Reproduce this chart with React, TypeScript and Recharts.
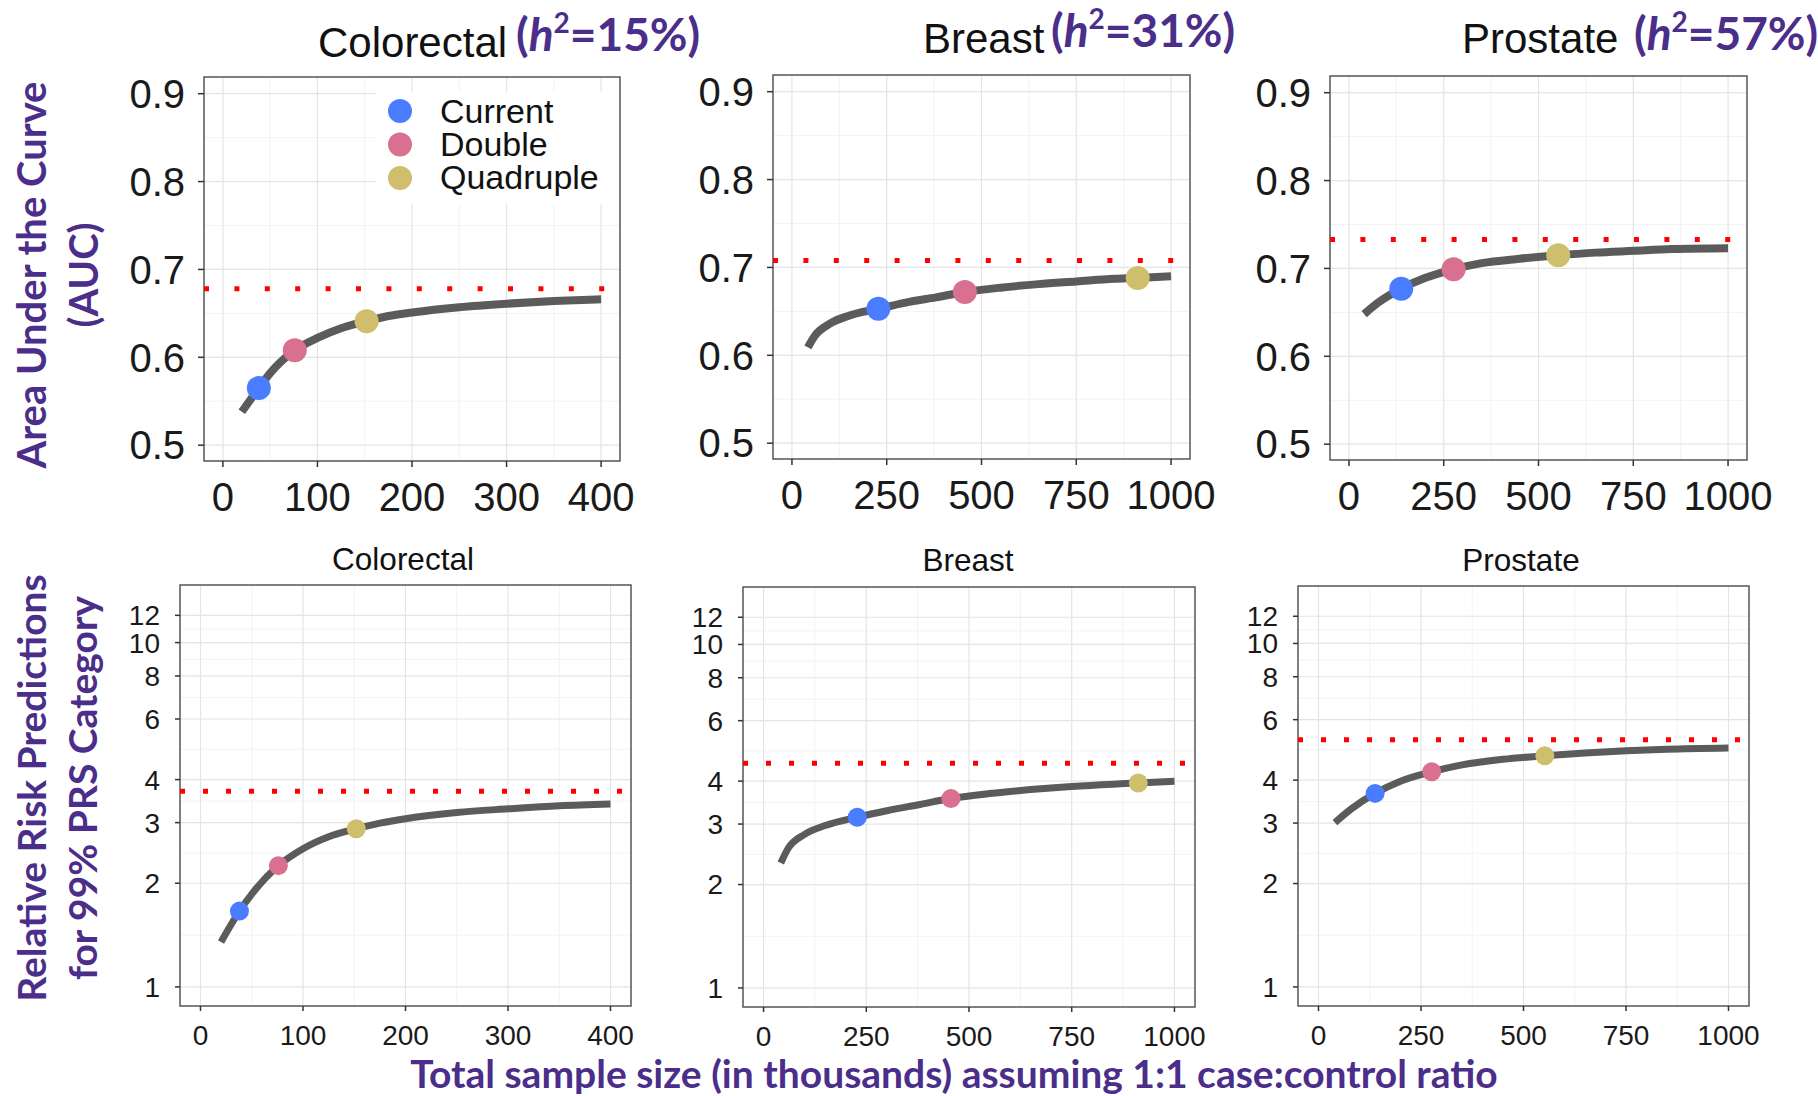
import React from 'react';
import {
  ComposedChart,
  Line,
  Scatter,
  XAxis,
  YAxis,
  CartesianGrid,
  ReferenceLine,
  ReferenceArea,
} from 'recharts';

const SANS = "'Liberation Sans', Arial, Helvetica, sans-serif";
const LABEL_FONT = "Lato, 'Open Sans', sans-serif";
const PURPLE = '#4b2d8a';

const LEVELS = ['Current', 'Double', 'Quadruple'];
const LEVEL_COLORS = ['#4a7cff', '#d9708f', '#cfbe6c'];

// sample size grid (thousands) for each fitted curve
const colorectalN = [20, 38, 50, 76, 100, 125, 152, 175, 200, 250, 300, 350, 400];
const breastN = [42, 60, 100, 150, 228, 300, 380, 456, 550, 650, 750, 850, 912, 1000];
const prostateN = [40, 80, 138, 200, 276, 350, 450, 552, 650, 750, 850, 1000];

// projected AUC
const colorectalAuc = [0.538, 0.565, 0.582, 0.608, 0.622, 0.633, 0.641, 0.647, 0.651, 0.657, 0.661, 0.664, 0.666];
const breastAuc = [0.609, 0.622, 0.636, 0.645, 0.653, 0.66, 0.666, 0.672, 0.677, 0.681, 0.684, 0.687, 0.688, 0.69];
const prostateAuc = [0.648, 0.662, 0.677, 0.689, 0.699, 0.706, 0.711, 0.715, 0.718, 0.72, 0.722, 0.723];

// projected relative risk, top 1% PRS
const colorectalRR = [1.35, 1.66, 1.86, 2.25, 2.52, 2.73, 2.88, 2.99, 3.08, 3.21, 3.29, 3.36, 3.4];
const breastRR = [2.31, 2.55, 2.8, 2.97, 3.14, 3.28, 3.42, 3.56, 3.68, 3.78, 3.86, 3.92, 3.95, 4.0];
const prostateRR = [3.01, 3.3, 3.66, 3.97, 4.23, 4.43, 4.6, 4.71, 4.8, 4.87, 4.92, 4.96];

// current / double / quadruple sample sizes
const colorectalLevels = [38, 76, 152];
const breastLevels = [228, 456, 912];
const prostateLevels = [138, 276, 552];

const colorectalLevelAuc = [0.565, 0.608, 0.641];
const breastLevelAuc = [0.653, 0.672, 0.688];
const prostateLevelAuc = [0.677, 0.699, 0.715];

const colorectalLevelRR = [1.66, 2.25, 2.88];
const breastLevelRR = [3.14, 3.56, 3.95];
const prostateLevelRR = [3.66, 4.23, 4.71];

// upper limits (infinite sample size)
const aucLimits = [0.678, 0.708, 0.733];
const rrLimits = [3.7, 4.51, 5.24];

const aucTicks = [0.5, 0.6, 0.7, 0.8, 0.9];
const aucMinor = [0.55, 0.65, 0.75, 0.85];
const rrTicks = [1, 2, 3, 4, 6, 8, 10, 12];
const rrMinor = [1.414, 2.449, 3.464, 4.899, 6.928, 8.944, 10.954];
const smallNTicks = [0, 100, 200, 300, 400];
const smallNMinor = [50, 150, 250, 350];
const bigNTicks = [0, 250, 500, 750, 1000];
const bigNMinor = [125, 375, 625, 875];

type Box = { x: number; y: number; w: number; h: number };

interface PanelProps {
  box: Box;
  xDomain: [number, number];
  xTicks: number[];
  xMinor: number[];
  yDomain: [number, number];
  yTicks: number[];
  yMinor: number[];
  log?: boolean;
  n: number[];
  values: number[];
  levelN: number[];
  levelValues: number[];
  limit: number;
  top: boolean;
}

const Panel = ({
  box, xDomain, xTicks, xMinor, yDomain, yTicks, yMinor, log,
  n, values, levelN, levelValues, limit, top,
}: PanelProps) => {
  const curve = n.map((x, i) => ({ x, y: values[i] }));
  const fontSize = top ? 40 : 28;
  const tickStyle = { fontSize, fill: '#1a1a1a', fontFamily: SANS };
  const dotR = top ? 12 : 9.5;
  return (
    <div style={{ position: 'absolute', left: box.x - 150, top: box.y - 10 }}>
      <ComposedChart
        width={box.w + 220}
        height={box.h + 100}
        margin={{ top: 10, right: 70, left: 0, bottom: 0 }}
      >
        <CartesianGrid
          stroke="#f3f3f3"
          strokeWidth={1}
          horizontalValues={yMinor}
          verticalValues={xMinor}
        />
        <CartesianGrid
          stroke="#e4e4e4"
          strokeWidth={1.2}
          horizontalValues={yTicks}
          verticalValues={xTicks}
        />
        <XAxis
          type="number"
          dataKey="x"
          domain={xDomain}
          ticks={xTicks}
          interval={0}
          allowDataOverflow
          axisLine={false}
          tickLine={{ stroke: '#333', strokeWidth: 1.5 }}
          tickSize={top ? 6 : 5}
          tickMargin={top ? 16 : 14}
          height={90}
          tick={tickStyle}
        />
        <YAxis
          type="number"
          dataKey="y"
          scale={log ? 'log' : 'linear'}
          domain={yDomain}
          ticks={yTicks}
          interval={0}
          allowDataOverflow
          axisLine={false}
          tickLine={{ stroke: '#333', strokeWidth: 1.5 }}
          tickSize={top ? 6 : 5}
          tickMargin={top ? 13 : 15}
          width={150}
          tick={tickStyle}
        />
        <ReferenceArea
          x1={xDomain[0]}
          x2={xDomain[1]}
          y1={yDomain[0]}
          y2={yDomain[1]}
          fill="none"
          stroke="#555"
          strokeWidth={1.5}
        />
        <ReferenceLine
          y={limit}
          stroke="#ff0000"
          strokeWidth={5}
          strokeDasharray={top ? '5 25.4' : '5 18'}
        />
        <Line
          data={curve}
          dataKey="y"
          type="monotone"
          stroke="#5b5b5b"
          strokeWidth={top ? 8 : 7}
          dot={false}
          isAnimationActive={false}
        />
        {LEVELS.map((name, i) => (
          <Scatter
            key={name}
            name={name}
            data={[{ x: levelN[i], y: levelValues[i] }]}
            dataKey="y"
            fill={LEVEL_COLORS[i]}
            isAnimationActive={false}
            shape={(p: any) => <circle cx={p.cx} cy={p.cy} r={dotR} fill={LEVEL_COLORS[i]} />}
          />
        ))}
      </ComposedChart>
    </div>
  );
};

const Heritability = ({ x, y, value }: { x: number; y: number; value: string }) => (
  <text x={x} y={y} fontFamily={LABEL_FONT} fontWeight={700} fontSize={46} fill={PURPLE}>
    (<tspan fontStyle="italic">h</tspan>
    <tspan dy={-18} fontSize={28}>2</tspan>
    <tspan dy={18}>={value})</tspan>
  </text>
);

export default function App() {
  const aucDomain: [number, number] = [0.482, 0.919];
  const rrDomain: [number, number] = [0.88, 14.7];
  return (
    <div style={{ position: 'absolute', left: 0, top: 0, width: 1818, height: 1096, background: '#fff', overflow: 'hidden' }}>
      <Panel box={{ x: 204, y: 77, w: 416, h: 384 }} xDomain={[-20, 420]} xTicks={smallNTicks} xMinor={smallNMinor}
        yDomain={aucDomain} yTicks={aucTicks} yMinor={aucMinor} n={colorectalN} values={colorectalAuc}
        levelN={colorectalLevels} levelValues={colorectalLevelAuc} limit={aucLimits[0]} top />
      <Panel box={{ x: 773, y: 75, w: 417, h: 384 }} xDomain={[-50, 1050]} xTicks={bigNTicks} xMinor={bigNMinor}
        yDomain={aucDomain} yTicks={aucTicks} yMinor={aucMinor} n={breastN} values={breastAuc}
        levelN={breastLevels} levelValues={breastLevelAuc} limit={aucLimits[1]} top />
      <Panel box={{ x: 1330, y: 76, w: 417, h: 384 }} xDomain={[-50, 1050]} xTicks={bigNTicks} xMinor={bigNMinor}
        yDomain={aucDomain} yTicks={aucTicks} yMinor={aucMinor} n={prostateN} values={prostateAuc}
        levelN={prostateLevels} levelValues={prostateLevelAuc} limit={aucLimits[2]} top />

      <Panel box={{ x: 180, y: 585, w: 451, h: 421 }} xDomain={[-20, 420]} xTicks={smallNTicks} xMinor={smallNMinor}
        yDomain={rrDomain} yTicks={rrTicks} yMinor={rrMinor} log n={colorectalN} values={colorectalRR}
        levelN={colorectalLevels} levelValues={colorectalLevelRR} limit={rrLimits[0]} top={false} />
      <Panel box={{ x: 743, y: 587, w: 452, h: 420 }} xDomain={[-50, 1050]} xTicks={bigNTicks} xMinor={bigNMinor}
        yDomain={rrDomain} yTicks={rrTicks} yMinor={rrMinor} log n={breastN} values={breastRR}
        levelN={breastLevels} levelValues={breastLevelRR} limit={rrLimits[1]} top={false} />
      <Panel box={{ x: 1298, y: 586, w: 451, h: 420 }} xDomain={[-50, 1050]} xTicks={bigNTicks} xMinor={bigNMinor}
        yDomain={rrDomain} yTicks={rrTicks} yMinor={rrMinor} log n={prostateN} values={prostateRR}
        levelN={prostateLevels} levelValues={prostateLevelRR} limit={rrLimits[2]} top={false} />

      <svg width={1818} height={1096} style={{ position: 'absolute', left: 0, top: 0, pointerEvents: 'none' }}>
        {/* legend */}
        <rect x={376} y={92} width={243} height={112} fill="#fff" />
        {LEVELS.map((name, i) => (
          <g key={name}>
            <circle cx={400} cy={111 + i * 33.5} r={12} fill={LEVEL_COLORS[i]} />
            <text x={440} y={123 + i * 33} fontFamily={SANS} fontSize={34} fill="#111">{name}</text>
          </g>
        ))}

        {/* row titles */}
        <text x={318} y={57} fontFamily={SANS} fontSize={42} fill="#111">Colorectal</text>
        <Heritability x={516} y={51} value="15%" />
        <text x={923} y={53} fontFamily={SANS} fontSize={42} fill="#111">Breast</text>
        <Heritability x={1051} y={47} value="31%" />
        <text x={1462} y={53} fontFamily={SANS} fontSize={42} fill="#111">Prostate</text>
        <Heritability x={1634} y={50} value="57%" />

        <text x={403} y={570} textAnchor="middle" fontFamily={SANS} fontSize={31.5} fill="#111">Colorectal</text>
        <text x={968} y={571} textAnchor="middle" fontFamily={SANS} fontSize={31.5} fill="#111">Breast</text>
        <text x={1521} y={571} textAnchor="middle" fontFamily={SANS} fontSize={31.5} fill="#111">Prostate</text>

        {/* axis titles */}
        <g fontFamily={LABEL_FONT} fontWeight={700} fill={PURPLE} textAnchor="middle">
          <text transform="translate(31,275) rotate(-90)" dominantBaseline="central" fontSize={40}>Area Under the Curve</text>
          <text transform="translate(83,275) rotate(-90)" dominantBaseline="central" fontSize={40}>(AUC)</text>
          <text transform="translate(31,788) rotate(-90)" dominantBaseline="central" fontSize={39}>Relative Risk Predictions</text>
          <text transform="translate(82,788) rotate(-90)" dominantBaseline="central" fontSize={39}>for 99% PRS Category</text>
          <text x={954} y={1088} fontSize={39}>Total sample size (in thousands) assuming 1:1 case:control ratio</text>
        </g>
      </svg>
    </div>
  );
}
